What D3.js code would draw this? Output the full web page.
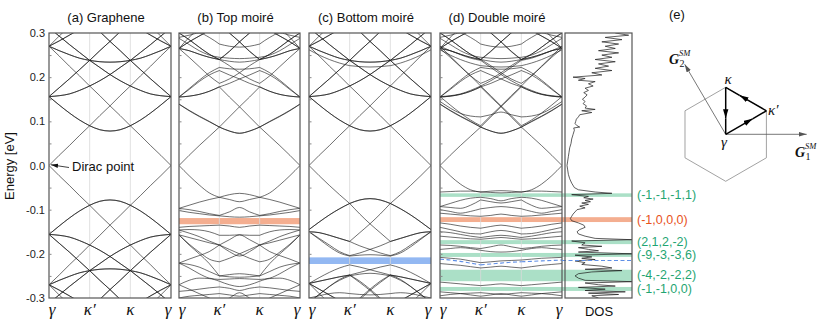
<!DOCTYPE html>
<html>
<head>
<meta charset="utf-8">
<script src="https://cdn.jsdelivr.net/npm/d3@7"></script>
<style>
  body { margin: 0; background: #fff; }
  text { font-family: "Liberation Sans", Arial, sans-serif; }
  text.serif { font-family: "Liberation Serif", "DejaVu Serif", serif; font-style: italic; }
</style>
</head>
<body>
<svg id="chart" width="830" height="332"></svg>
<script>
// k path gamma -> kappa' -> kappa -> gamma, sampled every quarter segment
const kPos = [0, 0.25, 0.5, 0.75, 1, 1.25, 1.5, 1.75, 2, 2.25, 2.5, 2.75, 3];
const kTicks = [0, 1, 2, 3];
const kLabels = ["γ", "κ′", "κ", "γ"];
const yTickVals = [-0.3, -0.2, -0.1, 0, 0.1, 0.2, 0.3];
const yTickLabels = ["-0.3", "-0.2", "-0.1", "0.0", "0.1", "0.2", "0.3"];
const minorTicks = [-0.25, -0.2, -0.15, -0.1, -0.05, 0.05, 0.1, 0.15, 0.2, 0.25];

// (a) graphene, energies in eV read at each kPos
const grapheneCond = [
  [0, .023, .045, .068, .09, .081, .078, .081, .09, .068, .045, .023, 0],
  [.156, .137, .119, .103, .09, .113, .135, .158, .18, .17, .162, .158, .156],
  [.156, .137, .119, .103, .09, .081, .078, .081, .09, .103, .119, .137, .156],
  [.156, .158, .162, .17, .18, .158, .135, .113, .09, .103, .119, .137, .156],
  [.156, .176, .196, .217, .238, .222, .206, .192, .18, .17, .162, .158, .156],
  [.156, .176, .196, .217, .238, .235, .234, .235, .238, .217, .196, .176, .156],
  [.156, .158, .162, .17, .18, .192, .206, .222, .238, .217, .196, .176, .156],
  [.27, .248, .225, .203, .18, .192, .206, .222, .238, .243, .251, .26, .27],
  [.27, .26, .251, .243, .238, .222, .206, .192, .18, .203, .225, .248, .27],
  [.27, .282, .295, .309, .325, .303, .281, .26, .238, .243, .251, .26, .27],
  [.27, .293, .315, .338, .36, .349, .34, .331, .325, .309, .295, .282, .27],
  [.27, .282, .295, .309, .325, .331, .34, .349, .36, .338, .315, .293, .27],
  [.27, .26, .251, .243, .238, .26, .281, .303, .325, .309, .295, .282, .27],
  [.312, .293, .274, .256, .238, .26, .281, .303, .325, .319, .315, .313, .312],
  [.312, .293, .274, .256, .238, .235, .234, .235, .238, .256, .274, .293, .312],
  [.312, .313, .315, .319, .325, .303, .281, .26, .238, .256, .274, .293, .312]
];
const grapheneVal = [
  [0, -.023, -.045, -.068, -.09, -.081, -.078, -.081, -.09, -.068, -.045, -.023, 0],
  [-.156, -.137, -.119, -.103, -.09, -.113, -.135, -.158, -.18, -.17, -.162, -.158, -.156],
  [-.156, -.137, -.119, -.103, -.09, -.081, -.078, -.081, -.09, -.103, -.119, -.137, -.156],
  [-.156, -.158, -.162, -.17, -.18, -.158, -.135, -.113, -.09, -.103, -.119, -.137, -.156],
  [-.156, -.176, -.196, -.217, -.238, -.222, -.206, -.192, -.18, -.17, -.162, -.158, -.156],
  [-.156, -.176, -.196, -.217, -.238, -.235, -.234, -.235, -.238, -.217, -.196, -.176, -.156],
  [-.156, -.158, -.162, -.17, -.18, -.192, -.206, -.222, -.238, -.217, -.196, -.176, -.156],
  [-.27, -.248, -.225, -.203, -.18, -.192, -.206, -.222, -.238, -.243, -.251, -.26, -.27],
  [-.27, -.26, -.251, -.243, -.238, -.222, -.206, -.192, -.18, -.203, -.225, -.248, -.27],
  [-.27, -.282, -.295, -.309, -.325, -.303, -.281, -.26, -.238, -.243, -.251, -.26, -.27],
  [-.27, -.293, -.315, -.338, -.36, -.349, -.34, -.331, -.325, -.309, -.295, -.282, -.27],
  [-.27, -.282, -.295, -.309, -.325, -.331, -.34, -.349, -.36, -.338, -.315, -.293, -.27],
  [-.27, -.26, -.251, -.243, -.238, -.26, -.281, -.303, -.325, -.309, -.295, -.282, -.27],
  [-.312, -.293, -.274, -.256, -.238, -.26, -.281, -.303, -.325, -.319, -.315, -.313, -.312],
  [-.312, -.293, -.274, -.256, -.238, -.235, -.234, -.235, -.238, -.256, -.274, -.293, -.312],
  [-.312, -.313, -.315, -.319, -.325, -.303, -.281, -.26, -.238, -.256, -.274, -.293, -.312]
];

// (b) top moiré
const topCond = [
  [0, .023, .045, .066, .087, .078, .073, .078, .087, .066, .045, .023, 0],
  [.139, .125, .112, .1, .087, .078, .073, .078, .087, .1, .112, .125, .139],
  [.139, .124, .111, .099, .087, .11, .133, .155, .178, .168, .161, .157, .155],
  [.155, .157, .161, .168, .178, .155, .133, .11, .087, .099, .111, .124, .139],
  [.155, .172, .19, .205, .215, .205, .196, .186, .178, .168, .161, .157, .155],
  [.155, .174, .193, .21, .222, .219, .218, .219, .222, .21, .193, .174, .155],
  [.155, .157, .161, .168, .178, .186, .196, .205, .215, .205, .19, .172, .155],
  [.265, .245, .224, .203, .186, .196, .21, .226, .24, .245, .252, .26, .265],
  [.265, .26, .252, .245, .24, .226, .21, .196, .186, .203, .224, .245, .265],
  [.265, .28, .293, .306, .32, .3, .28, .259, .24, .245, .252, .26, .265],
  [.265, .29, .312, .335, .36, .35, .34, .33, .32, .306, .293, .28, .265],
  [.265, .28, .293, .306, .32, .33, .34, .35, .36, .335, .312, .29, .265],
  [.265, .26, .252, .245, .24, .259, .28, .3, .32, .306, .293, .28, .265],
  [.3, .285, .268, .252, .24, .258, .28, .3, .32, .315, .31, .305, .3],
  [.3, .285, .268, .252, .24, .236, .234, .236, .24, .252, .268, .285, .3],
  [.3, .305, .31, .315, .32, .3, .28, .258, .24, .252, .268, .285, .3],
  [.288, .274, .26, .25, .245, .243, .242, .243, .245, .25, .26, .274, .288],
  [.29, .295, .3, .29, .275, .27, .268, .27, .275, .29, .3, .295, .29]
];
const topVal = [
  [0, -.023, -.044, -.062, -.072, -.066, -.063, -.066, -.072, -.062, -.044, -.023, 0],
  [-.097, -.09, -.083, -.077, -.072, -.077, -.082, -.077, -.072, -.077, -.083, -.09, -.097],
  [-.097, -.1, -.104, -.109, -.113, -.105, -.095, -.105, -.113, -.109, -.104, -.1, -.097],
  [-.102, -.106, -.109, -.112, -.114, -.116, -.117, -.116, -.114, -.112, -.109, -.106, -.102],
  [-.14, -.138, -.137, -.136, -.135, -.137, -.14, -.137, -.135, -.136, -.137, -.138, -.14],
  [-.146, -.153, -.161, -.171, -.18, -.168, -.157, -.168, -.18, -.171, -.161, -.153, -.146],
  [-.146, -.145, -.146, -.15, -.158, -.158, -.157, -.158, -.158, -.15, -.146, -.145, -.146],
  [-.157, -.163, -.169, -.175, -.18, -.19, -.2, -.21, -.218, -.212, -.196, -.178, -.157],
  [-.157, -.178, -.196, -.212, -.218, -.21, -.2, -.19, -.18, -.175, -.169, -.163, -.157],
  [-.157, -.18, -.2, -.222, -.25, -.247, -.245, -.247, -.25, -.222, -.2, -.18, -.157],
  [-.221, -.212, -.204, -.195, -.18, -.195, -.205, -.195, -.18, -.195, -.204, -.212, -.221],
  [-.221, -.224, -.23, -.24, -.25, -.252, -.253, -.252, -.25, -.24, -.23, -.224, -.221],
  [-.221, -.232, -.245, -.255, -.258, -.257, -.256, -.257, -.258, -.255, -.245, -.232, -.221],
  [-.27, -.26, -.255, -.256, -.262, -.27, -.274, -.27, -.262, -.256, -.255, -.26, -.27],
  [-.27, -.28, -.29, -.3, -.31, -.3, -.288, -.3, -.31, -.3, -.29, -.28, -.27],
  [-.285, -.283, -.28, -.277, -.275, -.278, -.283, -.278, -.275, -.277, -.28, -.283, -.285],
  [-.3, -.296, -.294, -.292, -.29, -.293, -.296, -.293, -.29, -.292, -.294, -.296, -.3]
];

// (c) bottom moiré: conduction side stays close to graphene, plus one split band
const bottomExtra = [.262, .25, .24, .232, .226, .224, .223, .224, .226, .232, .24, .25, .262];
const bottomVal = [
  [0, -.023, -.045, -.066, -.086, -.078, -.075, -.078, -.086, -.066, -.045, -.023, 0],
  [-.145, -.128, -.112, -.098, -.086, -.078, -.075, -.078, -.086, -.098, -.112, -.128, -.145],
  [-.145, -.128, -.112, -.098, -.086, -.11, -.132, -.152, -.172, -.165, -.158, -.152, -.15],
  [-.15, -.152, -.158, -.165, -.172, -.152, -.132, -.11, -.086, -.098, -.112, -.128, -.145],
  [-.15, -.165, -.18, -.195, -.204, -.198, -.19, -.182, -.172, -.165, -.158, -.152, -.15],
  [-.15, -.167, -.184, -.198, -.205, -.203, -.202, -.203, -.205, -.198, -.184, -.167, -.15],
  [-.15, -.152, -.158, -.165, -.172, -.182, -.19, -.198, -.204, -.195, -.18, -.165, -.15],
  [-.267, -.254, -.242, -.232, -.225, -.23, -.236, -.242, -.248, -.252, -.257, -.262, -.267],
  [-.267, -.262, -.257, -.252, -.248, -.242, -.236, -.23, -.225, -.232, -.242, -.254, -.267],
  [-.267, -.28, -.293, -.306, -.32, -.3, -.28, -.262, -.248, -.252, -.257, -.262, -.267],
  [-.267, -.262, -.257, -.252, -.248, -.262, -.28, -.3, -.32, -.306, -.293, -.28, -.267],
  [-.267, -.29, -.312, -.335, -.36, -.35, -.34, -.33, -.32, -.306, -.293, -.28, -.267],
  [-.267, -.28, -.293, -.306, -.32, -.33, -.34, -.35, -.36, -.335, -.312, -.29, -.267],
  [-.31, -.292, -.274, -.258, -.248, -.265, -.283, -.303, -.32, -.315, -.312, -.31, -.31],
  [-.31, -.292, -.274, -.26, -.25, -.246, -.244, -.246, -.25, -.26, -.274, -.292, -.31],
  [-.31, -.31, -.312, -.315, -.32, -.303, -.283, -.265, -.248, -.258, -.274, -.292, -.31],
  [-.3, -.295, -.29, -.288, -.29, -.292, -.293, -.292, -.29, -.288, -.29, -.295, -.3]
];

// (d) double moiré
const doubleExtra = [.145, .13, .118, .112, .11, .115, .121, .115, .11, .112, .118, .13, .145];
const doubleVal = [
  [0, -.023, -.042, -.055, -.06, -.058, -.057, -.058, -.06, -.055, -.042, -.023, 0],
  [-.06, -.059, -.058, -.058, -.06, -.061, -.062, -.061, -.06, -.058, -.058, -.059, -.06],
  [-.093, -.086, -.079, -.074, -.072, -.075, -.08, -.075, -.072, -.074, -.079, -.086, -.093],
  [-.093, -.095, -.097, -.09, -.078, -.082, -.085, -.082, -.078, -.09, -.097, -.095, -.093],
  [-.1, -.104, -.108, -.104, -.098, -.095, -.093, -.095, -.098, -.104, -.108, -.104, -.1],
  [-.108, -.11, -.112, -.114, -.115, -.113, -.11, -.113, -.115, -.114, -.112, -.11, -.108],
  [-.13, -.133, -.137, -.14, -.142, -.138, -.135, -.138, -.142, -.14, -.137, -.133, -.13],
  [-.14, -.145, -.15, -.154, -.155, -.15, -.147, -.15, -.155, -.154, -.15, -.145, -.14],
  [-.15, -.152, -.156, -.16, -.163, -.16, -.158, -.16, -.163, -.16, -.156, -.152, -.15],
  [-.16, -.162, -.164, -.166, -.167, -.165, -.163, -.165, -.167, -.166, -.164, -.162, -.16],
  [-.18, -.181, -.183, -.186, -.188, -.184, -.18, -.184, -.188, -.186, -.183, -.181, -.18],
  [-.19, -.188, -.186, -.188, -.192, -.195, -.196, -.195, -.192, -.188, -.186, -.188, -.19],
  [-.208, -.21, -.212, -.216, -.22, -.218, -.216, -.215, -.214, -.212, -.21, -.209, -.208],
  [-.222, -.224, -.226, -.229, -.232, -.23, -.228, -.23, -.232, -.229, -.226, -.224, -.222],
  [-.264, -.266, -.268, -.27, -.272, -.27, -.268, -.27, -.272, -.27, -.268, -.266, -.264],
  [-.286, -.288, -.29, -.293, -.296, -.293, -.29, -.293, -.296, -.293, -.29, -.288, -.286],
  [-.295, -.292, -.29, -.289, -.288, -.29, -.292, -.29, -.288, -.289, -.29, -.292, -.295]
];
const dashedBand = [-.212, -.214, -.217, -.221, -.225, -.223, -.221, -.219, -.218, -.217, -.216, -.215, -.214];
const dashedDosE = -0.215;

// gaps
const topGap = [-0.133, -0.119];
const bottomGap = [-0.223, -0.208];
const doubleGapLo = [-0.071, -0.128, -0.178, -0.207, -0.262, -0.284];
const doubleGapHi = [-0.063, -0.117, -0.169, -0.198, -0.236, -0.275];
const doubleGapKind = ["green", "orange", "green", "green", "green", "green"];
const doubleGapLabels = ["(-1,-1,-1,1)", "(-1,0,0,0)", "(2,1,2,-2)", "(-9,-3,-3,6)", "(-4,-2,-2,2)", "(-1,-1,0,0)"];

// density of states of the double moiré system (arb. units)
const dosE = [
  0.3, 0.295, 0.29, 0.285, 0.28, 0.275, 0.27, 0.265, 0.26, 0.255,
  0.25, 0.245, 0.24, 0.235, 0.23, 0.225, 0.22, 0.215, 0.21, 0.205,
  0.2, 0.197, 0.193, 0.19, 0.185, 0.18, 0.175, 0.17, 0.165, 0.16,
  0.155, 0.15, 0.145, 0.14, 0.135, 0.13, 0.127, 0.124, 0.12, 0.115,
  0.11, 0.105, 0.1, 0.095, 0.09, 0.087, 0.085, 0.08, 0.07, 0.06,
  0.05, 0.04, 0.03, 0.02, 0.01, 0, -0.01, -0.02, -0.03, -0.04,
  -0.05, -0.055, -0.06, -0.063, -0.066, -0.07, -0.073, -0.076, -0.079, -0.082,
  -0.085, -0.088, -0.092, -0.096, -0.1, -0.105, -0.11, -0.115, -0.12, -0.125,
  -0.13, -0.135, -0.14, -0.145, -0.15, -0.155, -0.16, -0.165, -0.168, -0.171,
  -0.175, -0.18, -0.183, -0.186, -0.19, -0.193, -0.196, -0.2, -0.203, -0.207,
  -0.21, -0.213, -0.216, -0.22, -0.224, -0.228, -0.232, -0.235, -0.238, -0.241,
  -0.245, -0.25, -0.255, -0.26, -0.263, -0.266, -0.27, -0.273, -0.276, -0.28,
  -0.283, -0.286, -0.289, -0.292, -0.295, -0.3
];
const dosV = [
  .75, .95, .6, .85, .55, .8, .6, .75, .5, .8,
  .55, .7, .45, .75, .5, .65, .45, .7, .4, .55,
  .12, .3, .2, .45, .35, .42, .3, .35, .28, .33,
  .3, .26, .3, .27, .32, .3, .45, .25, .4, .22,
  .2, .17, .16, .15, .18, .22, .13, .14, .12, .1,
  .09, .07, .06, .05, .04, .03, .04, .05, .07, .1,
  .14, .2, .45, .7, .1, .35, .28, .42, .3, .38,
  .25, .35, .22, .3, .18, .15, .12, .1, .08, .1,
  .2, .28, .3, .22, .18, .2, .3, .45, 1, .1,
  .3, .25, .55, .2, .35, .5, .2, 1, .15, .4,
  .25, .45, .15, .3, .25, .55, .7, .3, .85, .4,
  .2, .15, .2, .3, 1, .3, .5, .75, .2, .6,
  .3, .9, .35, .8, .4, .5
];

const colors = {
  green: "#abe0c7", orange: "#f4ae90", blue: "#93b8f2",
  greenText: "#1fa572", orangeText: "#e8521c", dash: "#5f8fe6"
};

const svg = d3.select("#chart");
const defs = svg.append("defs");
const yE = d3.scaleLinear().domain([-0.3, 0.3]).range([298, 33]);
const plotTop = 33, plotBottom = 298;

function marker(id, color, w, h) {
  defs.append("marker").attr("id", id)
    .attr("viewBox", "0 0 10 6").attr("refX", 10).attr("refY", 3)
    .attr("markerWidth", w).attr("markerHeight", h)
    .attr("markerUnits", "userSpaceOnUse").attr("orient", "auto")
    .append("path").attr("d", "M0,0L10,3L0,6Z").attr("fill", color);
}
marker("arrK", "#000", 9, 6);
marker("arrG", "#555", 8, 5);
marker("arrD", "#111", 7, 5);

const panels = [
  {key: "a", title: "(a) Graphene", x0: 49, x1: 171, bands: grapheneCond.concat(grapheneVal)},
  {key: "b", title: "(b) Top moiré", x0: 179, x1: 300, bands: topCond.concat(topVal)},
  {key: "c", title: "(c) Bottom moiré", x0: 309, x1: 431,
    bands: grapheneCond.concat([bottomExtra], bottomVal)},
  {key: "d", title: "(d) Double moiré", x0: 440, x1: 562,
    bands: topCond.concat([grapheneCond[1], grapheneCond[3], grapheneCond[7], grapheneCond[8], doubleExtra, bottomExtra], doubleVal)}
];
const dosX = d3.scaleLinear().domain([0, 1]).range([565, 632]);

// gap fills
function gapRect(x0, x1, lo, hi, color) {
  svg.append("rect")
    .attr("x", x0).attr("width", x1 - x0)
    .attr("y", yE(hi)).attr("height", yE(lo) - yE(hi))
    .attr("fill", color);
}
gapRect(179, 300, topGap[0], topGap[1], colors.orange);
gapRect(309, 431, bottomGap[0], bottomGap[1], colors.blue);
doubleGapLo.forEach((lo, i) => {
  gapRect(440, 632, lo, doubleGapHi[i], colors[doubleGapKind[i]]);
  svg.append("text")
    .attr("x", 637).attr("y", yE((lo + doubleGapHi[i]) / 2))
    .attr("dominant-baseline", "central")
    .attr("font-size", 12.5)
    .attr("fill", doubleGapKind[i] === "green" ? colors.greenText : colors.orangeText)
    .text(doubleGapLabels[i]);
});

const segLine = d3.line().x(d => d[0]).y(d => d[1]).curve(d3.curveMonotoneX);

panels.forEach(p => {
  let x = d3.scaleLinear().domain([0, 3]).range([p.x0, p.x1]);

  defs.append("clipPath").attr("id", "clip-" + p.key)
    .append("rect").attr("x", p.x0).attr("y", plotTop)
    .attr("width", p.x1 - p.x0).attr("height", plotBottom - plotTop);

  let g = svg.append("g").attr("clip-path", "url(#clip-" + p.key + ")");

  // grid lines at kappa' and kappa
  g.selectAll(".grid").data([1, 2]).enter().append("line")
    .attr("x1", d => x(d)).attr("x2", d => x(d))
    .attr("y1", plotTop).attr("y2", plotBottom)
    .attr("stroke", "#d8d8d8").attr("stroke-width", 0.8);

  // bands, one path per k-path segment
  p.bands.forEach(e => {
    [0, 1, 2].forEach(s => {
      let pts = d3.range(s * 4, s * 4 + 5).map(i => [x(kPos[i]), yE(e[i])]);
      g.append("path").attr("d", segLine(pts))
        .attr("fill", "none").attr("stroke", "#1a1a1a")
        .attr("stroke-width", 0.7).attr("stroke-opacity", 0.9);
    });
  });

  if (p.key === "d") {
    [0, 1, 2].forEach(s => {
      let pts = d3.range(s * 4, s * 4 + 5).map(i => [x(kPos[i]), yE(dashedBand[i])]);
      g.append("path").attr("d", segLine(pts))
        .attr("fill", "none").attr("stroke", colors.dash)
        .attr("stroke-width", 1.1).attr("stroke-dasharray", "4,2.5");
    });
  }

  // frame
  svg.append("rect").attr("x", p.x0).attr("y", plotTop)
    .attr("width", p.x1 - p.x0).attr("height", plotBottom - plotTop)
    .attr("fill", "none").attr("stroke", "#555").attr("stroke-width", 1.2);

  // small inner ticks
  svg.append("g").attr("transform", `translate(${p.x0},0)`)
    .call(d3.axisRight(yE).tickValues(minorTicks).tickSize(2.5).tickFormat(""))
    .call(a => a.select(".domain").remove())
    .call(a => a.selectAll("line").attr("stroke", "#888"));

  // title
  svg.append("text").attr("x", (p.x0 + p.x1) / 2 - 4).attr("y", 22)
    .attr("text-anchor", "middle").attr("font-size", 13).attr("fill", "#111")
    .text(p.title);

  // k labels
  kTicks.forEach((k, i) => {
    let xx = x(k);
    if (i === 0) xx += 3;
    if (i === 3) xx -= 3;
    svg.append("text").attr("class", "serif").attr("x", xx).attr("y", 315)
      .attr("text-anchor", "middle")
      .attr("font-size", 17).attr("fill", "#111")
      .text(kLabels[i]);
  });
});

// y axis on panel (a)
svg.append("g").attr("transform", "translate(49,0)")
  .call(d3.axisLeft(yE).tickValues(yTickVals).tickSize(0).tickPadding(4)
    .tickFormat((d, i) => yTickLabels[i]))
  .call(a => a.select(".domain").remove())
  .call(a => a.selectAll("text").attr("font-size", 11).attr("fill", "#222"));

svg.append("text").attr("transform", "translate(14,166) rotate(-90)")
  .attr("text-anchor", "middle").attr("font-size", 13).attr("fill", "#111")
  .text("Energy [eV]");

// Dirac point annotation
svg.append("line").attr("x1", 69).attr("y1", 167.5).attr("x2", 51).attr("y2", 164.8)
  .attr("stroke", "#111").attr("stroke-width", 0.8).attr("marker-end", "url(#arrD)");
svg.append("text").attr("x", 72).attr("y", 166).attr("dominant-baseline", "central")
  .attr("font-size", 13).attr("fill", "#111").text("Dirac point");

// DOS panel
defs.append("clipPath").attr("id", "clip-dos").append("rect")
  .attr("x", 565).attr("y", plotTop).attr("width", 67).attr("height", plotBottom - plotTop);
const dosLine = d3.line().x((d, i) => dosX(dosV[i])).y(d => yE(d));
svg.append("g").attr("clip-path", "url(#clip-dos)").append("path")
  .attr("d", dosLine(dosE)).attr("fill", "none")
  .attr("stroke", "#1a1a1a").attr("stroke-width", 0.7);
svg.append("line").attr("x1", 562).attr("x2", 632)
  .attr("y1", yE(dashedDosE)).attr("y2", yE(dashedDosE))
  .attr("stroke", colors.dash).attr("stroke-width", 1.1).attr("stroke-dasharray", "4,2.5");
svg.append("rect").attr("x", 565).attr("y", plotTop).attr("width", 67).attr("height", plotBottom - plotTop)
  .attr("fill", "none").attr("stroke", "#555").attr("stroke-width", 1.2);
svg.append("text").attr("x", 599).attr("y", 316).attr("text-anchor", "middle")
  .attr("font-size", 13).attr("fill", "#111").text("DOS");

// (e) Brillouin zone sketch
const cx = 725.7, cy = 134.3, R = 47;
svg.append("text").attr("x", 669).attr("y", 19).attr("font-size", 13).attr("fill", "#111").text("(e)");
const hex = d3.range(6).map(i => {
  let a = (90 - 60 * i) * Math.PI / 180;
  return [cx + R * Math.cos(a), cy - R * Math.sin(a)];
});
svg.append("polygon").attr("points", hex.map(p => p.join(",")).join(" "))
  .attr("fill", "none").attr("stroke", "#8a8a8a").attr("stroke-width", 0.8);

// reciprocal vectors
svg.append("line").attr("x1", cx).attr("y1", cy).attr("x2", cx + 81).attr("y2", cy)
  .attr("stroke", "#555").attr("stroke-width", 0.8).attr("marker-end", "url(#arrG)");
svg.append("line").attr("x1", cx).attr("y1", cy).attr("x2", cx - 41).attr("y2", cy - 70)
  .attr("stroke", "#555").attr("stroke-width", 0.8).attr("marker-end", "url(#arrG)");

// path gamma -> kappa' -> kappa -> gamma with mid arrows
const ptG = [cx, cy], ptKp = hex[1], ptK = hex[0];
[[ptG, ptKp], [ptKp, ptK], [ptK, ptG]].forEach(([a, b]) => {
  let m = [a[0] + 0.66 * (b[0] - a[0]), a[1] + 0.66 * (b[1] - a[1])];
  svg.append("line").attr("x1", a[0]).attr("y1", a[1]).attr("x2", m[0]).attr("y2", m[1])
    .attr("stroke", "#000").attr("stroke-width", 1.5).attr("marker-end", "url(#arrK)");
  svg.append("line").attr("x1", m[0]).attr("y1", m[1]).attr("x2", b[0]).attr("y2", b[1])
    .attr("stroke", "#000").attr("stroke-width", 1.5);
});

function bzText(x, y, size, txt, opts) {
  let t = svg.append("text").attr("class", "serif").attr("x", x).attr("y", y)
    .attr("font-size", size).attr("fill", "#111").text(txt);
  if (opts && opts.bold) t.style("font-weight", "bold");
  if (opts && opts.upright) t.style("font-style", "normal");
  if (opts && opts.anchor) t.attr("text-anchor", opts.anchor);
  return t;
}
bzText(728, 84, 15, "κ", {anchor: "middle"});
bzText(768, 115, 15, "κ′");
bzText(724, 147, 15, "γ", {anchor: "middle"});
bzText(795, 157, 14, "G", {bold: true});
bzText(805, 149, 8.5, "SM");
bzText(805.5, 160, 10, "1", {upright: true});
bzText(669, 64, 14, "G", {bold: true});
bzText(679, 56, 8.5, "SM");
bzText(679.5, 67, 10, "2", {upright: true});
</script>
</body>
</html>
